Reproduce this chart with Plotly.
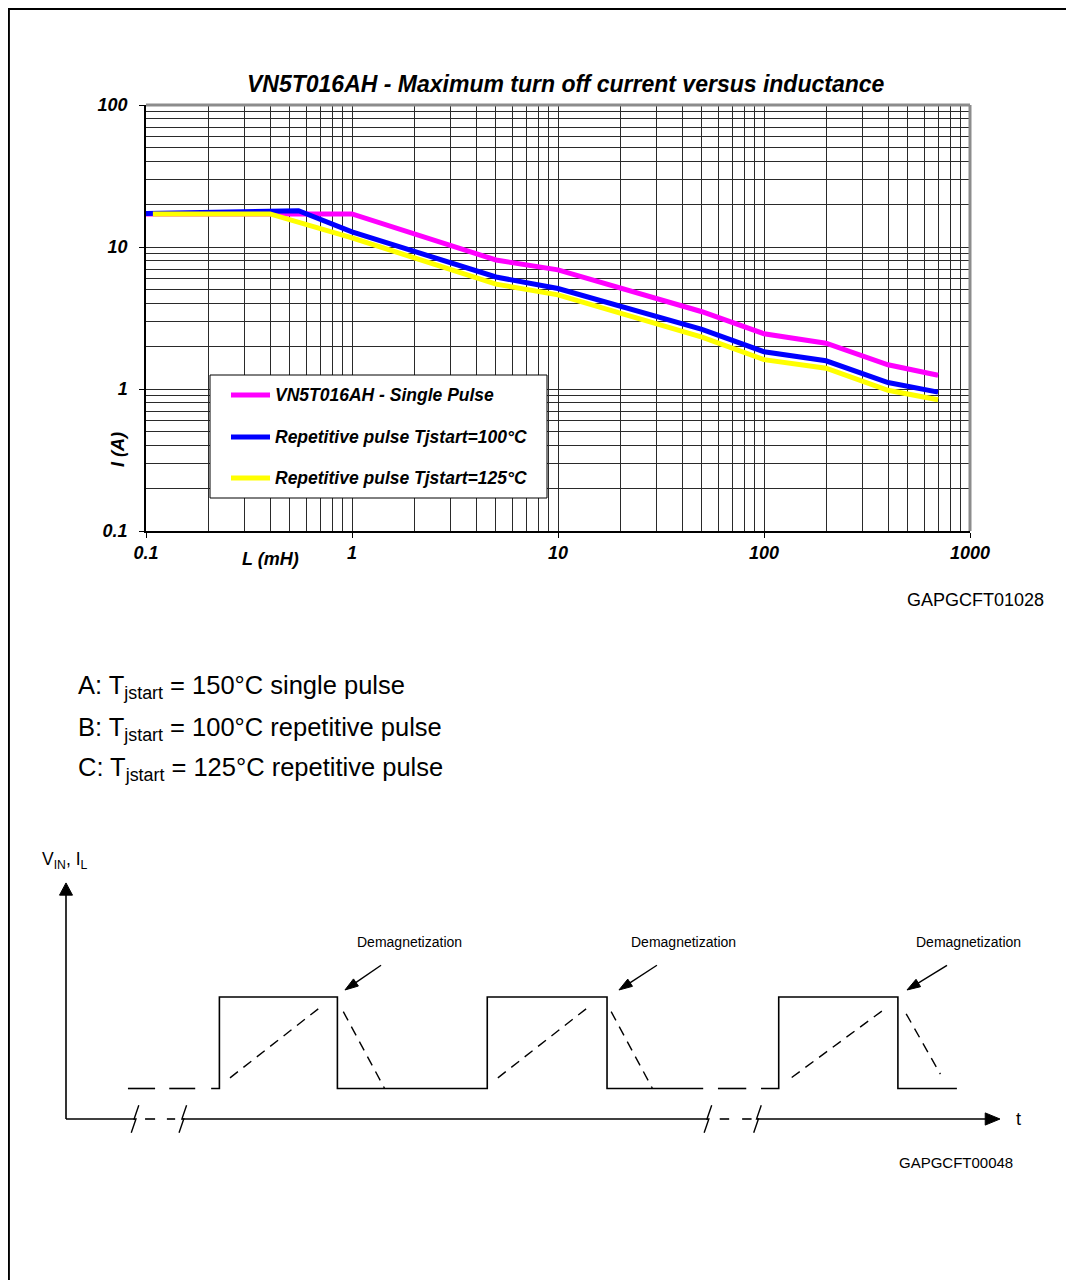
import plotly.graph_objects as go

# ------------------------------------------------------------------
# Main chart data: maximum turn-off current I (A) versus inductance L (mH)
# ------------------------------------------------------------------
series_names = [
    "VN5T016AH - Single Pulse",
    "Repetitive pulse Tjstart=100°C",
    "Repetitive pulse Tjstart=125°C",
]
L_single = [0.1, 1, 5, 10, 50, 100, 200, 400, 700]
I_single = [17.1, 17.1, 8.1, 6.9, 3.5, 2.45, 2.1, 1.48, 1.25]

L_rep100 = [0.1, 0.55, 1, 5, 10, 50, 100, 200, 400, 700]
I_rep100 = [17.2, 18.0, 12.8, 6.15, 5.1, 2.63, 1.83, 1.58, 1.11, 0.95]

L_rep125 = [0.108, 0.4, 1, 5, 10, 50, 100, 200, 400, 700]
I_rep125 = [17.1, 17.1, 11.6, 5.48, 4.6, 2.32, 1.61, 1.40, 0.98, 0.84]

x_tick_vals = [0.1, 1, 10, 100, 1000]
x_tick_text = ["0.1", "1", "10", "100", "1000"]
y_tick_vals = [0.1, 1, 10, 100]
y_tick_text = ["0.1", "1", "10", "100"]
minor_multipliers = [2, 3, 4, 5, 6, 7, 8, 9]

# ------------------------------------------------------------------
# Timing diagram data (schematic units: t along time, level vertically)
# ------------------------------------------------------------------
vin_t = [5.25, 7.55, None, 8.75, 10.95, None, 12.3, 13.0, 13.0, 23.0, 23.0,
         35.7, 35.7, 45.85, 45.85, 54.0, None, 55.25, 57.65, None,
         58.9, 60.4, 60.4, 70.5, 70.5, 75.5]
vin_level = [1, 1, None, 1, 1, None, 1, 1, 4, 4, 1,
             1, 4, 4, 1, 1, None, 1, 1, None,
             1, 1, 4, 4, 1, 1]

il_t = [13.9, 21.8, None, 23.5, 27.0, None,
        36.6, 44.5, None, 46.2, 49.7, None,
        61.5, 69.6, None, 71.2, 74.1]
il_level = [1.35, 3.74, None, 3.52, 1.0, None,
            1.35, 3.74, None, 3.52, 1.0, None,
            1.36, 3.67, None, 3.45, 1.47]

axis_t = [0, 5.85, None, 6.7, 7.55, None, 8.55, 9.25, None, 9.9, 54.4, None,
          55.4, 56.2, None, 57.3, 58.1, None, 58.6, 78.0]
axis_level = [0, 0, None, 0, 0, None, 0, 0, None, 0, 0, None,
              0, 0, None, 0, 0, None, 0, 0]

vaxis_t = [0, 0]
vaxis_level = [0, 7.4]

break_t = [5.85, 9.9, 54.4, 58.6]

demag_label_t = [29.15, 52.3, 76.45]
demag_head_t = [23.64, 46.86, 71.27]
demag_tail_t = [26.7, 50.08, 74.66]
demag_head_level = 4.23
demag_tail_level = 5.04

# ------------------------------------------------------------------
OFF = 8                      # page offset of the figure (body margin)
W, H = 1074 - OFF, 1280 - OFF
FONT = "Liberation Sans, Arial, sans-serif"
COLORS = ["#FF00FF", "#0000FF", "#FFFF00"]


def px(x):
    return (x - OFF) / W


def py(y):
    return 1 - (y - OFF) / H


fig = go.Figure()

for name, xs, ys, c in zip(series_names,
                           [L_single, L_rep100, L_rep125],
                           [I_single, I_rep100, I_rep125], COLORS):
    fig.add_trace(go.Scatter(x=xs, y=ys, mode="lines", name=name,
                             line=dict(color=c, width=5),
                             showlegend=False, xaxis="x", yaxis="y"))

# ---- diagram traces ----
dk = dict(color="black", width=1.6)
fig.add_trace(go.Scatter(x=vin_t, y=vin_level, mode="lines", line=dk,
                         showlegend=False, xaxis="x2", yaxis="y2",
                         name="V_IN"))
fig.add_trace(go.Scatter(x=il_t, y=il_level, mode="lines",
                         line=dict(color="black", width=1.4, dash="10px,7px"),
                         showlegend=False, xaxis="x2", yaxis="y2",
                         name="I_L"))
fig.add_trace(go.Scatter(x=axis_t, y=axis_level, mode="lines", line=dk,
                         showlegend=False, xaxis="x2", yaxis="y2"))
fig.add_trace(go.Scatter(x=vaxis_t, y=vaxis_level, mode="lines", line=dk,
                         showlegend=False, xaxis="x2", yaxis="y2"))
# axis-break zigzags
zz_t, zz_l = [], []
for b in break_t:
    zz_t += [b + 0.32, b - 0.08, b + 0.08, b - 0.32, None]
    zz_l += [0.45, 0.0, 0.0, -0.45, None]
fig.add_trace(go.Scatter(x=zz_t, y=zz_l, mode="lines",
                         line=dict(color="black", width=1.4),
                         showlegend=False, xaxis="x2", yaxis="y2"))
# arrow heads of the diagram axes
fig.add_trace(go.Scatter(x=[-0.55, 0.55, 0, -0.55], y=[7.34, 7.34, 7.74, 7.34],
                         mode="lines", fill="toself", fillcolor="black",
                         line=dict(color="black", width=1),
                         showlegend=False, xaxis="x2", yaxis="y2"))
fig.add_trace(go.Scatter(x=[77.9, 77.9, 79.15, 77.9], y=[-0.2, 0.2, 0, -0.2],
                         mode="lines", fill="toself", fillcolor="black",
                         line=dict(color="black", width=1),
                         showlegend=False, xaxis="x2", yaxis="y2"))
# "Demagnetization" pointer arrows
for ht, tt in zip(demag_head_t, demag_tail_t):
    fig.add_trace(go.Scatter(
        x=[tt, ht], y=[demag_tail_level, demag_head_level],
        mode="lines+markers", line=dict(color="black", width=1.4),
        marker=dict(symbol=["circle", "arrow"], size=[0, 14],
                    angleref="previous", color="black", opacity=1,
                    line=dict(width=1, color="black")),
        showlegend=False, xaxis="x2", yaxis="y2"))

bi = dict(family=FONT, size=18, color="black", weight="bold", style="italic")

minor_x = [m * 10 ** e for e in range(-1, 3) for m in minor_multipliers]
minor_y = [m * 10 ** e for e in range(-1, 2) for m in minor_multipliers]

fig.update_layout(
    width=W, height=H,
    margin=dict(l=0, r=0, t=0, b=0),
    paper_bgcolor="white", plot_bgcolor="white",
    showlegend=False,
    xaxis=dict(type="log", domain=[px(146), px(970)], range=[-1, 3],
               anchor="y",
               tickmode="array", tickvals=x_tick_vals, ticktext=x_tick_text,
               ticks="outside", ticklen=5, tickcolor="black", tickwidth=1,
               tickfont=bi, ticklabelstandoff=0,
               showgrid=True, gridcolor="#2a2a2a", gridwidth=1,
               minor=dict(tickmode="array", tickvals=minor_x, showgrid=True,
                          gridcolor="#2a2a2a", gridwidth=1, ticks=""),
               showline=True, linecolor="black", linewidth=1.5,
               zeroline=False, automargin=False, fixedrange=True),
    yaxis=dict(type="log", domain=[py(531), py(105)], range=[-1, 2],
               anchor="x",
               tickmode="array", tickvals=y_tick_vals, ticktext=y_tick_text,
               ticks="outside", ticklen=5, tickcolor="black", tickwidth=1,
               tickfont=bi, ticklabelstandoff=8,
               showgrid=True, gridcolor="#2a2a2a", gridwidth=1,
               minor=dict(tickmode="array", tickvals=minor_y, showgrid=True,
                          gridcolor="#2a2a2a", gridwidth=1, ticks=""),
               showline=True, linecolor="black", linewidth=1.5,
               zeroline=False, automargin=False, fixedrange=True),
    xaxis2=dict(domain=[0, 1], anchor="y2",
                range=[(OFF - 66) / 11.8, (1074 - 66) / 11.8],
                visible=False, fixedrange=True),
    yaxis2=dict(domain=[0, py(820)], anchor="x2",
                range=[(1119 - 1280) / 30.5, (1119 - 820) / 30.5],
                visible=False, fixedrange=True),
)

shapes = []
# grey top/right border of plot area
shapes.append(dict(type="line", xref="x domain", yref="y domain",
                   x0=0, x1=1, y0=1, y1=1, line=dict(color="#8c8c8c", width=3)))
shapes.append(dict(type="line", xref="x domain", yref="y domain",
                   x0=1, x1=1, y0=0, y1=1, line=dict(color="#8c8c8c", width=3)))
# page frame (cut off at right and bottom)
shapes.append(dict(type="line", xref="paper", yref="paper",
                   x0=px(8.6), x1=px(8.6), y0=py(7), y1=py(1290),
                   line=dict(color="black", width=2.6)))
shapes.append(dict(type="line", xref="paper", yref="paper",
                   x0=px(7), x1=px(1090), y0=py(8.6), y1=py(8.6),
                   line=dict(color="black", width=2.6)))
# legend box
shapes.append(dict(type="rect", xref="paper", yref="paper",
                   x0=px(210), x1=px(547), y0=py(498), y1=py(375),
                   fillcolor="white", line=dict(color="black", width=1),
                   layer="above"))
leg_y = [395, 437, 478]
for c, yy in zip(COLORS, leg_y):
    shapes.append(dict(type="line", xref="paper", yref="paper",
                       x0=px(231), x1=px(270), y0=py(yy), y1=py(yy),
                       line=dict(color=c, width=5), layer="above"))
fig.update_layout(shapes=shapes)

ann = []
for name, yy in zip(series_names, leg_y):
    ann.append(dict(text=name, xref="paper", yref="paper", x=px(273), y=py(yy),
                    xanchor="left", yanchor="middle", showarrow=False,
                    font=dict(family=FONT, size=17.5, color="black",
                              weight="bold", style="italic")))
# title
ann.append(dict(text="VN5T016AH - Maximum turn off current versus inductance",
                xref="paper", yref="paper", x=px(566), y=py(84),
                xanchor="center", yanchor="middle", showarrow=False,
                font=dict(family=FONT, size=23, color="black",
                          weight="bold", style="italic")))
ann.append(dict(text="L (mH)", xref="paper", yref="paper", x=px(270), y=py(559),
                xanchor="center", yanchor="middle", showarrow=False, font=bi))
ann.append(dict(text="I (A)", xref="paper", yref="paper", x=px(118), y=py(450),
                xanchor="center", yanchor="middle", showarrow=False,
                textangle=-90, font=bi))
ann.append(dict(text="GAPGCFT01028", xref="paper", yref="paper",
                x=px(1046), y=py(600), xanchor="right", yanchor="middle",
                showarrow=False,
                font=dict(family=FONT, size=18, color="black")))
# condition lines
conds = ["A: T<sub>jstart</sub> = 150°C single pulse",
         "B: T<sub>jstart</sub> = 100°C repetitive pulse",
         "C: T<sub>jstart</sub> = 125°C repetitive pulse"]
for txt, yy in zip(conds, [687, 729, 769]):
    ann.append(dict(text=txt, xref="paper", yref="paper", x=px(76), y=py(yy),
                    xanchor="left", yanchor="middle", showarrow=False,
                    font=dict(family=FONT, size=25.5, color="black")))

# diagram annotations
small = dict(family=FONT, size=14, color="black")
for lt in demag_label_t:
    ann.append(dict(text="Demagnetization", xref="x2", yref="y2", x=lt, y=5.8,
                    xanchor="center", yanchor="middle", showarrow=False,
                    font=small))
ann.append(dict(text="V<sub>IN</sub>, I<sub>L</sub>", xref="x2", yref="y2",
                x=-2.2, y=8.49, xanchor="left", yanchor="middle",
                showarrow=False, font=dict(family=FONT, size=17.5, color="black")))
ann.append(dict(text="t", xref="x2", yref="y2", x=80.7, y=0.0,
                xanchor="center", yanchor="middle", showarrow=False,
                font=dict(family=FONT, size=18, color="black")))
ann.append(dict(text="GAPGCFT00048", xref="x2", yref="y2", x=80.4, y=-1.44,
                xanchor="right", yanchor="middle", showarrow=False,
                font=dict(family=FONT, size=15, color="black")))

fig.update_layout(annotations=ann)

fig.write_html("out.html")
